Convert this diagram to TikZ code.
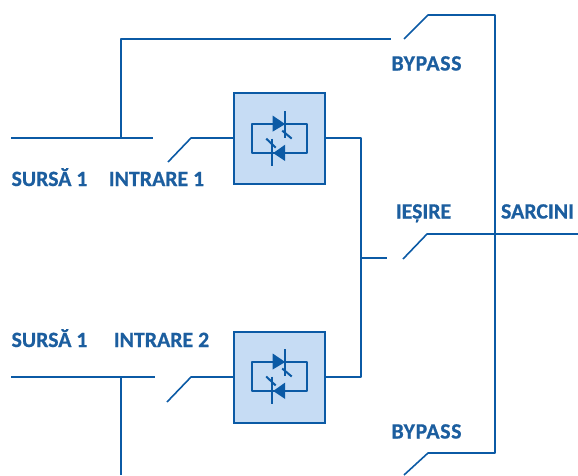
\documentclass[tikz,border=0pt]{standalone}
\usepackage{fontspec}
\setmainfont{Carlito}
\definecolor{lineblue}{HTML}{0B5AA5}
\definecolor{textblue}{HTML}{1C5E9F}
\definecolor{boxblue}{HTML}{C6DCF4}
\tikzset{
  wire/.style={draw=lineblue,line width=1.6pt,line join=round},
  lbl/.style={text=textblue,font=\fontsize{21.8}{24}\selectfont\bfseries\addfontfeature{FakeBold=0.7},inner sep=0pt,anchor=base},
  wide/.style={font=\fontsize{21.8}{24}\selectfont\bfseries\addfontfeature{FakeBold=0.7,LetterSpace=3}},
  ssr/.style={draw=lineblue,fill=boxblue,line width=1.9pt,minimum width=91pt,minimum height=91pt,inner sep=0pt},
  sym/.style={draw=lineblue,line width=2pt,line join=round},
  symtip/.style={fill=lineblue,draw=none},
  pics/thyr/.style={code={
    \draw[sym] (-27.5,-14.5) rectangle (27.5,14.5);
    \fill[symtip] (-6.5,-23) -- (6,-14.5) -- (-6.5,-7) -- cycle;
    \draw[sym] (6,-27.5) -- (6,-0.5);
    \draw[sym] (3,-8) -- (12.5,0);
    \fill[symtip] (6,6) -- (-6,14.5) -- (6,22.5) -- cycle;
    \draw[sym] (-7,0) -- (-7,27);
    \draw[sym] (-13,0) -- (-3.5,9);
  }}
}
\begin{document}
\begin{tikzpicture}[x=1pt,y=-1pt]
\useasboundingbox (0,0) rectangle (578,475);
% boxes
\node[ssr] (ssrA) at (279.2,138.6) {};
\node[ssr] (ssrB) at (279.2,377.5) {};
\pic at (ssrA.center) {thyr};
\pic at ([yshift=1pt]ssrB.center) {thyr};
% coordinates
\coordinate (srcAw) at (11,138);
\coordinate (srcAe) at (153,138);
\coordinate (tapA) at (121,138);
\coordinate (bpAc) at (121,39);
\coordinate (bpAe) at (391,39);
\coordinate (bpAs) at (404,39);
\coordinate (bpAk) at (428,15);
\coordinate (busT) at (495,15);
\coordinate (busB) at (495,453);
\coordinate (bpBk) at (428,453);
\coordinate (bpBs) at (404,475);
\coordinate (inAs) at (168,162);
\coordinate (inAk) at (191,138);
\coordinate (outAk) at (361,138);
\coordinate (outBk) at (361,377);
\coordinate (outM) at (361,258);
\coordinate (outMe) at (387,258);
\coordinate (oS) at (403,259);
\coordinate (oK) at (427,234);
\coordinate (oE) at (578,234);
\coordinate (srcBw) at (11,377);
\coordinate (srcBe) at (155,377);
\coordinate (tapB) at (121,377);
\coordinate (tapBs) at (121,475);
\coordinate (inBs) at (167,402);
\coordinate (inBk) at (191,377);
% connectors
\draw[wire] (srcAw) -- (srcAe);
\draw[wire] (tapA) -- (bpAc) -- (bpAe);
\draw[wire] (bpAs) -- (bpAk) -- (busT) -- (busB) -- (bpBk) -- (bpBs);
\draw[wire] (inAs) -- (inAk) -- (ssrA.west |- inAk);
\draw[wire] (ssrA.east |- outAk) -- (outAk) -- (outBk) -- (ssrB.east |- outBk);
\draw[wire] (outM) -- (outMe);
\draw[wire] (oS) -- (oK) -- (oE);
\draw[wire] (srcBw) -- (srcBe);
\draw[wire] (tapB) -- (tapBs);
\draw[wire] (inBs) -- (inBk) -- (ssrB.west |- inBk);
% labels
\node[lbl] (t1) at (49.5,186) {SURSĂ 1};
\node[lbl] (t2) at (156.5,186) {INTRARE 1};
\node[lbl,wide] (t3) at (426.5,70.5) {BYPASS};
\node[lbl] (t4) at (423.5,218.5) {IEȘIRE};
\node[lbl] (t5) at (537.5,218.5) {SARCINI};
\node[lbl] (t6) at (49.5,347) {SURSĂ 1};
\node[lbl] (t7) at (161.5,347) {INTRARE 2};
\node[lbl,wide] (t8) at (426.5,438.5) {BYPASS};
\end{tikzpicture}
\end{document}
